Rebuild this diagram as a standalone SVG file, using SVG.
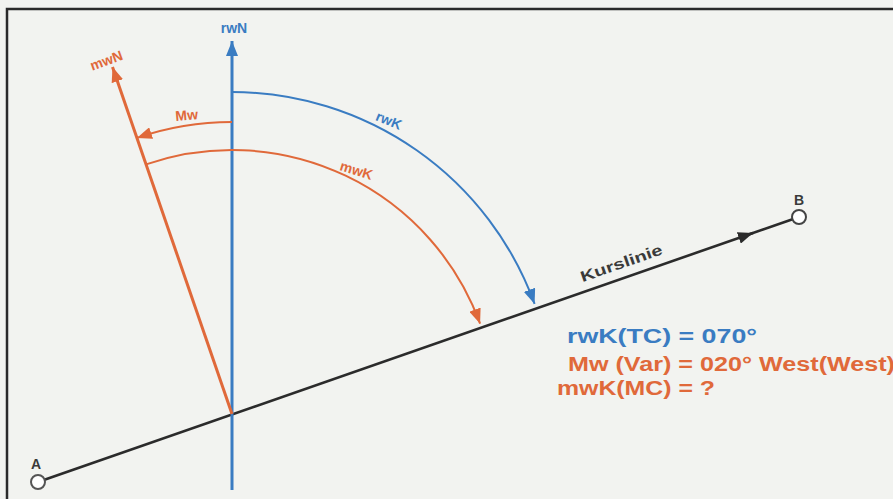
<svg xmlns="http://www.w3.org/2000/svg" width="893" height="499" viewBox="0 0 893 499">
  <style>
    .bg { fill: #f2f3f0; }
    .frame { stroke: #2a2a2a; stroke-width: 2.5; fill: none; }
    .blue { stroke: #3a7cc2; fill: none; }
    .orange { stroke: #e0693a; fill: none; }
    .dark { stroke: #2b2b2b; fill: none; }
    .lbl { font-family: "Liberation Sans", Arial, sans-serif; font-weight: bold; }
    .tb { fill: #3a7cc2; }
    .to { fill: #e0693a; }
    .td { fill: #3a3a3a; }
  </style>
  <defs>
    <marker id="arrBlue" markerUnits="userSpaceOnUse" markerWidth="16" markerHeight="12" refX="15" refY="6" orient="auto">
      <path d="M0,0 L15,6 L0,12 Z" fill="#3a7cc2"/>
    </marker>
    <marker id="arrOrange" markerUnits="userSpaceOnUse" markerWidth="16" markerHeight="12" refX="15" refY="6" orient="auto">
      <path d="M0,0 L15,6 L0,12 Z" fill="#e0693a"/>
    </marker>
    <marker id="arrDark" markerUnits="userSpaceOnUse" markerWidth="16" markerHeight="12" refX="15" refY="6" orient="auto">
      <path d="M0,0 L15,6 L0,12 Z" fill="#2b2b2b"/>
    </marker>
  </defs>

  <rect class="bg" x="0" y="0" width="893" height="499"/>
  <path class="frame" d="M7,499 L7,9 L893,9"/>

  <g id="connectors">
    <path id="kurslinie" class="dark" stroke-width="2.6" d="M38,482 L753,233" marker-end="url(#arrDark)"/>
    <path class="dark" stroke-width="2.6" d="M740,237.5 L799,217"/>
    <path id="rwN-line" class="blue" stroke-width="3" d="M232,490 L232,41" marker-end="url(#arrBlue)"/>
    <path id="mwN-line" class="orange" stroke-width="3" d="M232,414 L112.5,67" marker-end="url(#arrOrange)"/>
    <path id="rwK-arc" class="blue" stroke-width="2" d="M232,92 A322,322 0 0 1 534.6,303.9" marker-end="url(#arrBlue)"/>
    <path id="mwK-arc" class="orange" stroke-width="2" d="M146,164.4 A264,264 0 0 1 480.1,323.7" marker-end="url(#arrOrange)"/>
    <path id="Mw-arc" class="orange" stroke-width="2" d="M232,122 A292,292 0 0 0 136.9,137.9" marker-end="url(#arrOrange)"/>
  </g>

  <g id="A">
    <circle cx="38" cy="482" r="7" fill="#ffffff" stroke="#555555" stroke-width="2"/>
    <text class="lbl td" x="36" y="469" font-size="14" text-anchor="middle">A</text>
  </g>
  <g id="B">
    <circle cx="799" cy="217" r="7" fill="#ffffff" stroke="#444444" stroke-width="2"/>
    <text class="lbl td" x="799" y="205" font-size="14" text-anchor="middle">B</text>
  </g>

  <g id="labels">
    <text class="lbl tb" x="234" y="33" font-size="14" text-anchor="middle">rwN</text>
    <text class="lbl to" x="0" y="0" font-size="14" text-anchor="middle" transform="translate(108,65) rotate(-20)">mwN</text>
    <text class="lbl to" x="0" y="0" font-size="14" text-anchor="middle" transform="translate(187,120) rotate(-5)">Mw</text>
    <text class="lbl tb" x="0" y="0" font-size="14" text-anchor="middle" transform="translate(387,125) rotate(22)">rwK</text>
    <text class="lbl to" x="0" y="0" font-size="14" text-anchor="middle" transform="translate(355,175) rotate(17)">mwK</text>
    <text class="lbl td" x="0" y="0" font-size="15" text-anchor="middle" textLength="86" lengthAdjust="spacingAndGlyphs" transform="translate(623,268) rotate(-19.2)">Kurslinie</text>
  </g>

  <g id="legend">
    <text class="lbl tb" x="567" y="343" font-size="20" textLength="190" lengthAdjust="spacingAndGlyphs">rwK(TC) = 070°</text>
    <text class="lbl to" x="568" y="371" font-size="20" textLength="327" lengthAdjust="spacingAndGlyphs">Mw (Var) = 020° West(West)</text>
    <text class="lbl to" x="557" y="395" font-size="20" textLength="158" lengthAdjust="spacingAndGlyphs">mwK(MC) = ?</text>
  </g>
</svg>
